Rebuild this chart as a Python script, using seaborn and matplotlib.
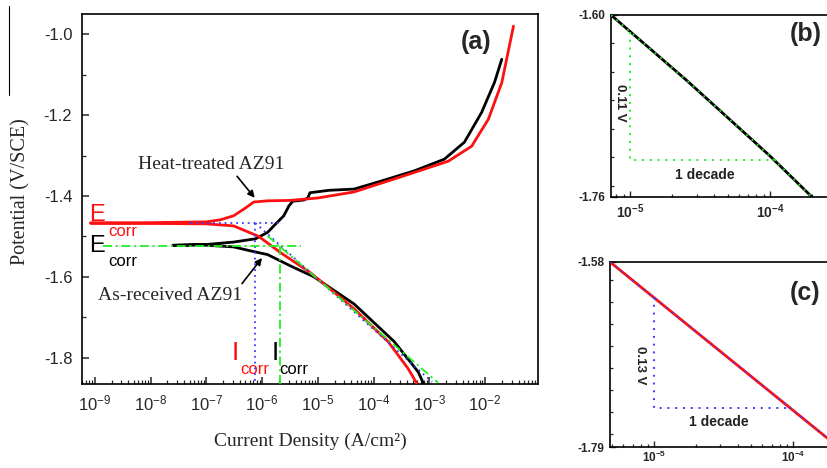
import numpy as np
import pandas as pd
import matplotlib
matplotlib.use("Agg")
import matplotlib.pyplot as plt
import seaborn as sns
from matplotlib import ticker
from matplotlib.lines import Line2D

# ---- polarization curves, log10(current density) vs potential (V/SCE)
# heat-treated AZ91 (red): cathodic branch from bottom, then anodic branch
ht_logi = [-3.23, -3.38, -3.74, -4.35, -5.13, -5.67, -6.06, -6.51, -7.0, -8.0, -9.08,
           -8.0, -7.0, -6.75, -6.51, -6.3, -6.15, -5.9, -5.5, -5.0, -4.35, -3.45,
           -2.66, -2.24, -1.94, -1.70, -1.49]
ht_pot = [-1.862, -1.827, -1.760, -1.679, -1.590, -1.540, -1.500, -1.474, -1.469, -1.468, -1.467,
          -1.466, -1.464, -1.459, -1.449, -1.430, -1.415, -1.412, -1.411, -1.405, -1.390, -1.350,
          -1.314, -1.277, -1.210, -1.120, -0.980]

# as-received AZ91 (black)
ar_logi = [-3.11, -3.20, -3.63, -4.35, -5.07, -5.49, -5.9, -6.2, -6.51, -7.11, -7.6,
           -7.0, -6.51, -6.12, -5.9, -5.79, -5.61, -5.52, -5.45, -5.25, -5.18, -5.14,
           -4.8, -4.35, -3.86, -3.27, -2.73, -2.37, -2.06, -1.83, -1.70]
ar_pot = [-1.862, -1.835, -1.760, -1.667, -1.600, -1.573, -1.545, -1.536, -1.526, -1.521, -1.522,
          -1.520, -1.514, -1.506, -1.490, -1.474, -1.449, -1.425, -1.413, -1.410, -1.405, -1.392,
          -1.386, -1.383, -1.363, -1.338, -1.309, -1.267, -1.193, -1.119, -1.062]

# Tafel construction lines
ecorr_ht, icorr_ht = -1.467, -6.12
ecorr_ar, icorr_ar = -1.523, -5.68
blue_tafel_logi = [-6.12, -2.95]
blue_tafel_pot = [-1.467, -1.860]
green_tafel_logi = [-5.90, -2.84]
green_tafel_pot = [-1.499, -1.862]

# inset (b): as-received cathodic Tafel region
b_logi = [-5.136, -4.6, -4.0, -3.7]
b_pot = [-1.600, -1.657, -1.724, -1.760]
b_tri_logi = [-5.0, -5.0, -3.95]
b_tri_pot = [-1.615, -1.7275, -1.7275]

# inset (c): heat-treated cathodic Tafel region
c_logi = [-5.317, -3.698]
c_pot = [-1.580, -1.787]
c_tri_logi = [-5.0, -5.0, -4.02]
c_tri_pot = [-1.620, -1.746, -1.746]

RED = "#ff1010"
BLUE = "#3a3aff"
GREEN = "#22ee22"

sns.set_style("ticks")
plt.rcParams["font.family"] = ["Liberation Sans", "DejaVu Sans"]
plt.rcParams["axes.unicode_minus"] = False
plt.rcParams["mathtext.fontset"] = "custom"
plt.rcParams["mathtext.rm"] = "Liberation Sans"
plt.rcParams["mathtext.bf"] = "Liberation Sans:bold"
plt.rcParams["mathtext.it"] = "Liberation Sans:italic"
SERIF = ["Liberation Serif", "DejaVu Serif"]


def curve(ax, logi, pot, color, lw, ls="-", z=2):
    df = pd.DataFrame({"i": 10 ** np.array(logi, dtype=float), "E": pot})
    sns.lineplot(data=df, x="i", y="E", sort=False, estimator=None, color=color,
                 lw=lw, linestyle=ls, ax=ax, zorder=z)


fig = plt.figure(figsize=(8.27, 4.68), dpi=100)
fig.patch.set_facecolor("white")

# ---------------- main panel (a)
ax = fig.add_axes([82 / 827, 84 / 468, 456 / 827, 370 / 468])
ax.set_xscale("log")
dot = (0, (1, 2.2))
dashdot = (0, (5, 2, 1.2, 2))

curve(ax, ar_logi, ar_pot, "black", 2.0)
curve(ax, ht_logi, ht_pot, RED, 2.0, z=3)

# blue (heat-treated) construction
curve(ax, [-7.3, -5.65], [ecorr_ht, ecorr_ht], BLUE, 1.3, dot, 4)
curve(ax, [icorr_ht, icorr_ht], [ecorr_ht, -1.87], BLUE, 1.3, dot, 4)
curve(ax, blue_tafel_logi, blue_tafel_pot, BLUE, 1.3, dot, 4)
# green (as-received) construction
curve(ax, [-8.85, -5.3], [ecorr_ar, ecorr_ar], GREEN, 1.3, dashdot, 4)
curve(ax, [icorr_ar, icorr_ar], [ecorr_ar, -1.87], GREEN, 1.3, dashdot, 4)
curve(ax, green_tafel_logi, green_tafel_pot, GREEN, 1.3, dashdot, 4)

ax.set_xlim(10 ** -9.23, 10 ** -1.05)
ax.set_ylim(-1.865, -0.95)
ax.xaxis.set_major_locator(ticker.LogLocator(base=10, numticks=20))
ax.xaxis.set_minor_locator(ticker.LogLocator(base=10, subs=np.arange(2, 10), numticks=20))
ax.xaxis.set_minor_formatter(ticker.NullFormatter())
ax.yaxis.set_major_locator(ticker.MultipleLocator(0.2))
ax.yaxis.set_minor_locator(ticker.MultipleLocator(0.1))
ax.yaxis.set_major_formatter(ticker.FormatStrFormatter("%.1f"))
ax.tick_params(which="major", direction="in", length=5, width=1.1, labelsize=12, pad=7)
ax.tick_params(which="minor", direction="in", length=3, width=0.9)
for s in ax.spines.values():
    s.set_linewidth(1.2)
    s.set_color("black")
ax.set_xlabel("Current Density (A/cm²)", family=SERIF, fontsize=14)
ax.set_ylabel("Potential (V/SCE)", family=SERIF, fontsize=14.5)
ax.xaxis.set_label_coords(0.5, -0.132)
ax.yaxis.set_label_coords(-0.112, 0.52)

ax.text(10 ** -2.153, -1.02, "(a)", fontsize=18, fontweight="bold", ha="center", va="center")
ax.text(10 ** -6.91, -1.321, "Heat-treated AZ91", family=SERIF, fontsize=14, ha="center", va="center")
ax.annotate("", xy=(10 ** -6.1, -1.41), xytext=(10 ** -6.48, -1.346),
            arrowprops=dict(arrowstyle="-|>", color="black", lw=1.2, mutation_scale=10))
ax.text(10 ** -7.65, -1.647, "As-received AZ91", family=SERIF, fontsize=14, ha="center", va="center")
ax.annotate("", xy=(10 ** -5.97, -1.548), xytext=(10 ** -6.39, -1.622),
            arrowprops=dict(arrowstyle="-|>", color="black", lw=1.2, mutation_scale=10))

ax.text(10 ** -9.108, -1.448, "E", color=RED, fontsize=17, ha="left", va="center", zorder=5)
ax.text(10 ** -8.766, -1.489, "corr", color=RED, fontsize=12, ha="left", va="center")
ax.text(10 ** -9.108, -1.523, "E", color="black", fontsize=17, ha="left", va="center", zorder=5)
ax.text(10 ** -8.766, -1.563, "corr", color="black", fontsize=12, ha="left", va="center")
ax.text(10 ** -6.477, -1.788, "I", color=RED, fontsize=19, ha="center", va="center")
ax.text(10 ** -6.387, -1.830, "corr", color=RED, fontsize=12, ha="left", va="center")
ax.text(10 ** -5.757, -1.788, "I", color="black", fontsize=19, ha="center", va="center")
ax.text(10 ** -5.685, -1.830, "corr", color="black", fontsize=12, ha="left", va="center")


def inset(rect, logi, pot, color, tri_logi, tri_pot, tri_color, tri_ls, xlim, ylim,
          yminor, label, slope_text, slope_xy, dec_xy, lab_xy, xfs=10, xpad=4):
    a = fig.add_axes(rect)
    a.set_xscale("log")
    curve(a, logi, pot, color, 2.0)
    curve(a, logi, pot, tri_color, 1.3, tri_ls, 3)
    curve(a, tri_logi, tri_pot, tri_color, 1.4, tri_ls, 3)
    a.set_xlim(10 ** xlim[0], 10 ** xlim[1])
    a.set_ylim(*ylim)
    a.set_yticks([ylim[1], ylim[0]])
    a.set_yticklabels(["%.2f" % ylim[1], "%.2f" % ylim[0]], fontweight="bold", fontsize=8.5)
    a.yaxis.set_minor_locator(ticker.FixedLocator(yminor))
    a.set_xticks([1e-5, 1e-4])
    a.set_xticklabels([r"$\mathbf{10^{-5}}$", r"$\mathbf{10^{-4}}$"], fontsize=xfs)
    a.xaxis.set_minor_locator(ticker.LogLocator(base=10, subs=np.arange(2, 10), numticks=20))
    a.xaxis.set_minor_formatter(ticker.NullFormatter())
    a.tick_params(which="major", direction="in", length=4, width=1.0, pad=4)
    a.tick_params(axis="x", which="major", pad=xpad)
    a.tick_params(which="minor", direction="in", length=2.5, width=0.9)
    for s in a.spines.values():
        s.set_linewidth(1.2)
        s.set_color("black")
    a.set_xlabel("")
    a.set_ylabel("")
    a.text(*lab_xy, label, transform=a.transAxes, fontsize=18, fontweight="bold",
           ha="left", va="center")
    a.text(*slope_xy, slope_text, transform=a.transAxes, fontsize=9.5, fontweight="bold",
           rotation=270, ha="center", va="center", color="#222222")
    a.text(*dec_xy, "1 decade", transform=a.transAxes, fontsize=10, fontweight="bold",
           ha="center", va="center", color="#222222")
    return a


inset([611 / 827, 271 / 468, 224 / 827, 182 / 468], b_logi, b_pot, "black",
      b_tri_logi, b_tri_pot, GREEN, (0, (1, 3)), (-5.136, -3.536), (-1.76, -1.60),
      [-1.625, -1.65, -1.675, -1.70, -1.725, -1.75], "(b)", "0.11 V",
      (0.040, 0.516), (0.42, 0.121), (0.80, 0.896))

inset([610 / 827, 21 / 468, 225 / 827, 185 / 468], c_logi, c_pot, RED,
      c_tri_logi, c_tri_pot, BLUE, (0, (1, 3)), (-5.317, -3.698), (-1.79, -1.58),
      [-1.60, -1.625, -1.65, -1.675, -1.70, -1.725, -1.75, -1.775], "(c)", "0.13 V",
      (0.133, 0.443), (0.484, 0.135), (0.80, 0.832), xfs=8.5, xpad=2)

# stray crop edge at the far left of the scanned figure
fig.add_artist(Line2D([9 / 827, 9 / 827], [1 - 6 / 468, 1 - 95 / 468], color="black", lw=0.8))

fig.savefig("out.png", dpi=100)
